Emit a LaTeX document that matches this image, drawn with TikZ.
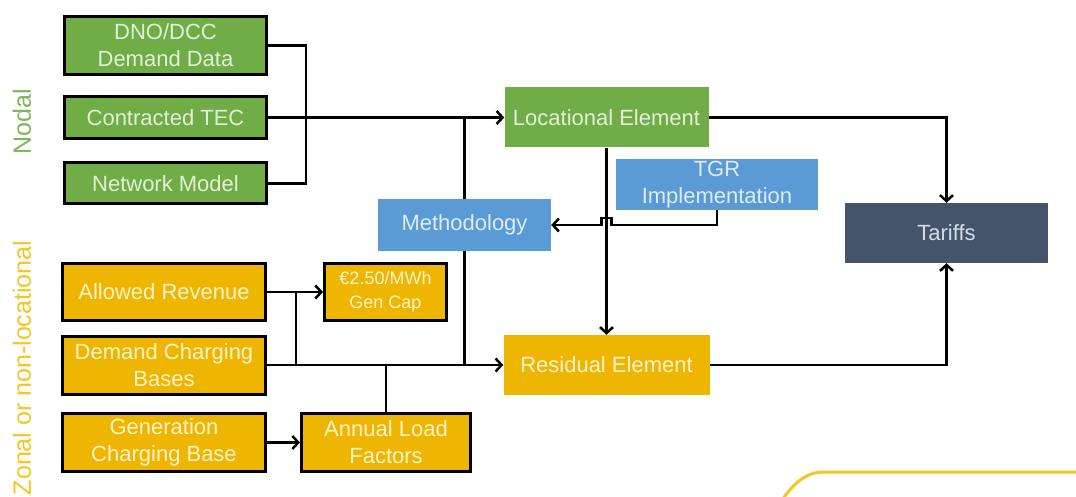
\documentclass[tikz,border=0pt]{standalone}
\usepackage{fontspec}
\setmainfont{Liberation Sans}
\usetikzlibrary{arrows.meta}
\definecolor{cgreen}{RGB}{112,173,71}
\definecolor{cgold}{RGB}{238,182,0}
\definecolor{cblue}{RGB}{91,155,213}
\definecolor{cslate}{RGB}{68,84,106}
\definecolor{tgreen}{RGB}{226,240,217}
\definecolor{tgold}{RGB}{255,242,204}
\definecolor{tblue}{RGB}{222,235,247}
\definecolor{tslate}{RGB}{214,220,229}
\definecolor{lgreen}{RGB}{125,182,88}
\definecolor{lgold}{RGB}{245,198,30}
\tikzset{
  box/.style={rectangle, inner sep=0pt, align=center, font=\fontsize{22}{27}\selectfont},
  inbox/.style={box, draw=black, line width=3pt},
  greenin/.style={inbox, fill=cgreen, text=tgreen},
  goldin/.style={inbox, fill=cgold, text=tgold},
  greenbox/.style={box, fill=cgreen, text=tgreen},
  goldbox/.style={box, fill=cgold, text=tgold},
  bluebox/.style={box, fill=cblue, text=tblue},
  slatebox/.style={box, fill=cslate, text=tslate},
  conn/.style={draw=black, line width=2.5pt},
  arr/.style={conn, -{Straight Barb[length=6pt,width=13pt]}},
  side/.style={rotate=90, font=\fontsize{25}{30}\selectfont}
}
\begin{document}
\begin{tikzpicture}[x=1pt,y=-1pt]
\useasboundingbox (0,0) rectangle (1076,497);

% side labels
\node[side, text=lgreen] (nodal) at (22,122) {Nodal};
\node[side, text=lgold] (zonal) at (22,368) {Zonal or non-locational};

% nodal inputs
\node[greenin, minimum width=202pt, minimum height=58pt] (dno) at (165.5,45.5) {DNO/DCC\\Demand Data};
\node[greenin, minimum width=202pt, minimum height=42pt] (tec) at (165.5,117.5) {Contracted TEC};
\node[greenin, minimum width=202pt, minimum height=41pt] (net) at (165.5,183.5) {Network Model};

% zonal inputs
\node[goldin, minimum width=203pt, minimum height=57pt] (ar) at (164,292) {Allowed Revenue};
\node[goldin, minimum width=203pt, minimum height=58pt] (dcb) at (164,365) {Demand Charging\\Bases};
\node[goldin, minimum width=203pt, minimum height=58pt] (gcb) at (164,442.5) {Generation\\Charging Base};
\node[goldin, minimum width=122pt, minimum height=57pt, font=\fontsize{18}{24}\selectfont] (gen) at (385.5,292) {€2.50/MWh\\Gen Cap};
\node[goldin, minimum width=169pt, minimum height=58pt] (alf) at (386,442.5) {Annual Load\\Factors};

% central
\node[greenbox, minimum width=204pt, minimum height=60pt] (loc) at (606.5,117.5) {Locational Element};
\node[bluebox, minimum width=173pt, minimum height=52pt] (meth) at (464.5,225) {Methodology};
\node[bluebox, minimum width=202pt, minimum height=51pt] (tgr) at (717,184.5) {TGR\\Implementation};
\node[goldbox, minimum width=206pt, minimum height=60pt] (res) at (606.5,365) {Residual Element};
\node[slatebox, minimum width=203pt, minimum height=60pt] (tar) at (946.5,233) {Tariffs};

% connectors
\draw[conn] (dno.east) -- ++(38,0) |- (net.east);
\draw[arr] (tec.east) -- (loc.west);
\draw[conn] (meth.north) -- (meth.north |- loc.west);
\draw[conn] (meth.south) -- (meth.south |- res.west);
\draw[arr] (loc.south) -- (res.north);
\draw[arr] (tgr.south) |- ([xshift=5pt]loc.south |- meth.east) -- ++(0,-7) -- ++(-10,0) -- ++(0,7) -- (meth.east);
\draw[arr] (loc.east) -| (tar.north);
\draw[arr] (res.east) -| (tar.south);
\draw[arr] (dcb.east) -- (res.west);
\draw[arr] (ar.east) -- (gen.west);
\draw[conn] (ar.east) ++(29,0) coordinate (j1) -- (j1 |- dcb.east);
\draw[conn] (alf.north) -- (alf.north |- dcb.east);
\draw[arr] (gcb.east) -- (alf.west);

% partial yellow outline bottom right
\draw[lgold, line width=3pt] (1080,472) -- (825,472) .. controls (806,472) and (795,482) .. (782,500);
\end{tikzpicture}
\end{document}
